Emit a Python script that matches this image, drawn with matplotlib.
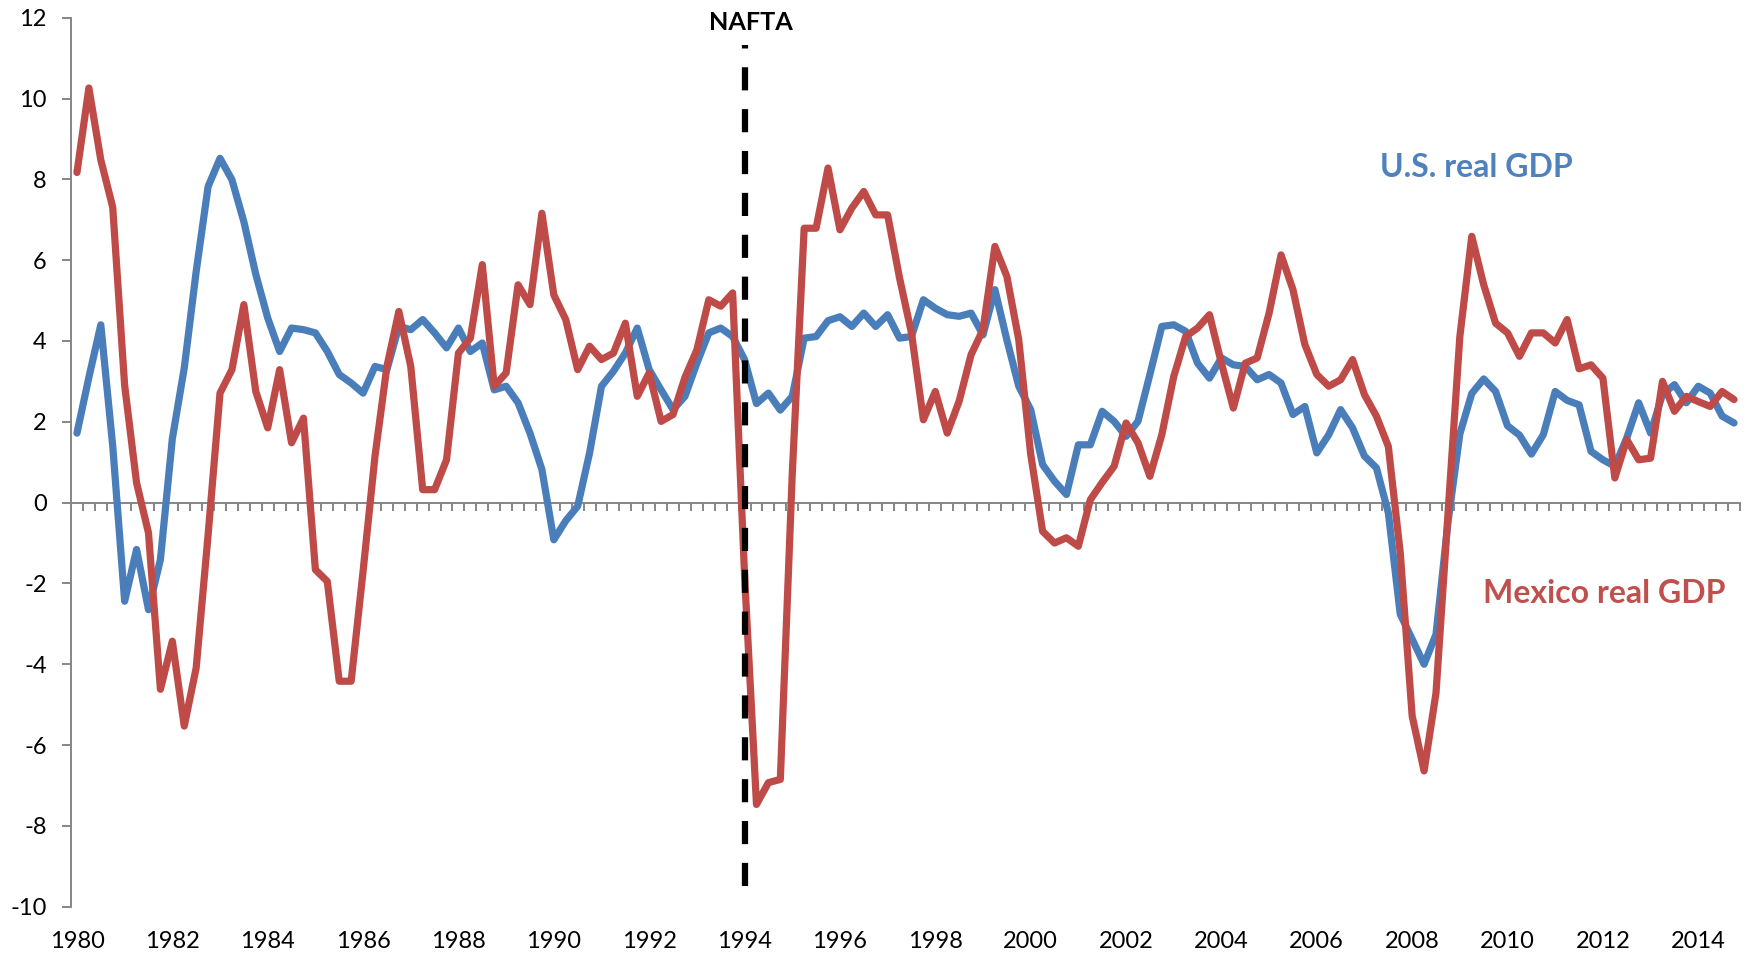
import numpy as np
import matplotlib
matplotlib.use("Agg")
import matplotlib.pyplot as plt

plt.rcParams['font.family'] = ['Lato', 'DejaVu Sans']
plt.rcParams['axes.unicode_minus'] = False

# ---- data: quarterly real GDP growth (%), 1980Q1 - 2014Q4 ----
us_gdp = [
    1.72, 3.10, 4.40, 1.40, -2.44, -1.16, -2.65, -1.41,
    1.58, 3.33, 5.72, 7.82, 8.52, 7.99, 6.95, 5.65,
    4.57, 3.74, 4.32, 4.28, 4.20, 3.74, 3.17, 2.96,
    2.71, 3.37, 3.29, 4.36, 4.28, 4.53, 4.20, 3.83,
    4.32, 3.74, 3.95, 2.79, 2.88, 2.47, 1.72, 0.82,
    -0.92, -0.45, -0.09, 1.23, 2.88, 3.25, 3.70, 4.32,
    3.29, 2.79, 2.30, 2.63, 3.45, 4.20, 4.32, 4.11,
    3.54, 2.45, 2.71, 2.29, 2.63, 4.07, 4.11, 4.50,
    4.60, 4.36, 4.69, 4.36, 4.65, 4.07, 4.11, 5.02,
    4.81, 4.65, 4.61, 4.69, 4.15, 5.27, 4.03, 2.88,
    2.30, 0.94, 0.53, 0.20, 1.43, 1.43, 2.26, 2.01,
    1.64, 2.01, 3.17, 4.36, 4.40, 4.24, 3.45, 3.08,
    3.58, 3.41, 3.37, 3.04, 3.17, 2.96, 2.18, 2.38,
    1.23, 1.68, 2.30, 1.85, 1.15, 0.86, -0.25, -2.76,
    -3.38, -4.00, -3.26, -0.50, 1.70, 2.70, 3.06, 2.75,
    1.90, 1.67, 1.20, 1.68, 2.75, 2.53, 2.42, 1.27,
    1.06, 0.90, 1.60, 2.47, 1.72, 2.68, 2.92, 2.47,
    2.88, 2.71, 2.14, 1.97,
]
mexico_gdp = [
    8.17, 10.26, 8.48, 7.31, 2.90, 0.49, -0.75, -4.62,
    -3.43, -5.53, -4.09, -0.80, 2.71, 3.29, 4.90, 2.75,
    1.85, 3.29, 1.48, 2.09, -1.66, -1.95, -4.42, -4.42,
    -1.70, 1.15, 3.37, 4.73, 3.37, 0.32, 0.32, 1.06,
    3.70, 4.07, 5.89, 2.88, 3.21, 5.39, 4.90, 7.16,
    5.14, 4.53, 3.29, 3.87, 3.54, 3.70, 4.44, 2.63,
    3.21, 2.01, 2.18, 3.10, 3.78, 5.02, 4.86, 5.19,
    -1.80, -7.47, -6.93, -6.85, 0.70, 6.79, 6.79, 8.28,
    6.75, 7.29, 7.70, 7.12, 7.12, 5.56, 4.20, 2.05,
    2.75, 1.72, 2.51, 3.66, 4.28, 6.34, 5.60, 4.03,
    1.20, -0.71, -1.00, -0.87, -1.08, 0.07, 0.50, 0.90,
    1.97, 1.48, 0.65, 1.68, 3.12, 4.11, 4.32, 4.65,
    3.45, 2.34, 3.45, 3.58, 4.69, 6.13, 5.27, 3.91,
    3.17, 2.88, 3.04, 3.54, 2.67, 2.14, 1.39, -1.24,
    -5.28, -6.64, -4.71, -0.30, 4.11, 6.59, 5.39, 4.44,
    4.20, 3.62, 4.20, 4.20, 3.95, 4.53, 3.31, 3.41,
    3.08, 0.61, 1.56, 1.06, 1.10, 3.00, 2.26, 2.63,
    2.50, 2.38, 2.75, 2.55,
]
year_labels = [str(y) for y in range(1980, 2015, 2)]
y_ticks = list(range(-10, 13, 2))
nafta_quarter = 56          # 1994Q1
nafta_span = [-9.5, 11.33]

# ---- styling ----
BLUE = "#4A7EBB"
RED = "#BE4B48"
BLUE_TXT = "#4F81BD"
RED_TXT = "#C0504D"
GREY = "#868686"

W, H = 1754, 964
fig = plt.figure(figsize=(W / 100, H / 100), dpi=100)
left, right = 71, 1740
top, bottom = 17.7, 906.7
ax = fig.add_axes([left / W, 1 - bottom / H, (right - left) / W, (bottom - top) / H])

x = np.arange(len(us_gdp))
ax.plot(x, us_gdp, color=BLUE, lw=5.2, solid_joinstyle='round',
        solid_capstyle='round', zorder=3)
ax.plot(x, mexico_gdp, color=RED, lw=5.2, solid_joinstyle='round',
        solid_capstyle='round', zorder=4)

# NAFTA marker (drawn bottom-up so dash pattern starts at bottom)
ax.plot([nafta_quarter, nafta_quarter], nafta_span, color='black', lw=4.5,
        linestyle=(0, (3.7, 3.0)), dash_capstyle='butt', zorder=5)

ax.set_xlim(-0.5, len(us_gdp) - 0.5)
ax.set_ylim(-10, 12)

for s in ['top', 'right', 'bottom']:
    ax.spines[s].set_visible(False)
ax.spines['left'].set_color(GREY)
ax.spines['left'].set_linewidth(1.4)

ax.set_yticks(y_ticks)
ax.set_yticklabels([str(v) for v in y_ticks])
ax.tick_params(axis='y', direction='out', length=6.5, width=1.4, color=GREY,
               pad=11, labelsize=17, labelcolor='black')

label_pos = np.arange(0, len(us_gdp), 8)
ax.set_xticks(label_pos)
ax.set_xticklabels(year_labels)
ax.tick_params(axis='x', length=0, pad=17.5, labelsize=17, labelcolor='black')

# category axis line at zero with quarterly tick marks
sec = ax.secondary_xaxis(10 / 22)
sec.set_xticks(np.arange(-0.5, len(us_gdp), 1.0))
sec.tick_params(axis='x', direction='out', length=5.8, width=1.4, color=GREY,
                labelbottom=False, labeltop=False)
for s in sec.spines.values():
    s.set_color(GREY)
    s.set_linewidth(1.4)

ax.text(nafta_quarter + 0.5, 11.70, "NAFTA", ha='center', va='baseline',
        fontsize=18.2, fontweight='bold', color='black')
ax.text(117.4, 8.07, "U.S. real GDP", ha='center', va='baseline',
        fontsize=23, fontweight='bold', color=BLUE_TXT)
ax.text(128.1, -2.48, "Mexico real GDP", ha='center', va='baseline',
        fontsize=23, fontweight='bold', color=RED_TXT)

fig.savefig("out.png", dpi=100)
